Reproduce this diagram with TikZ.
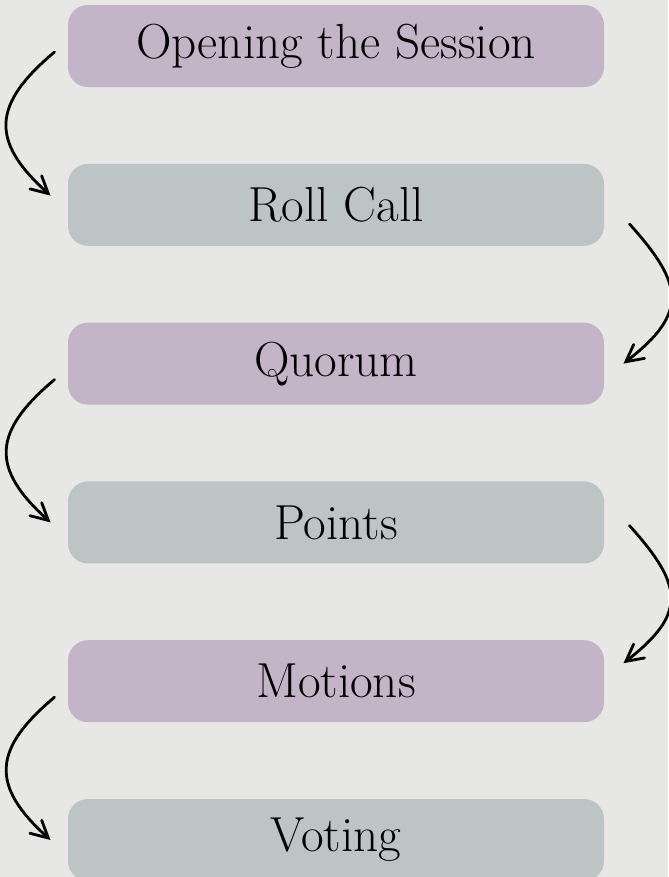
\documentclass[tikz,border=0pt]{standalone}
\usepackage{xcolor}
\usepackage{tikz}
\usetikzlibrary{arrows.meta}
\definecolor{MyMauve}{RGB}{195,180,199}
\definecolor{MySage}{RGB}{188,196,197}
\definecolor{MyWall}{RGB}{231,231,229}

\begin{document}
\begin{tikzpicture}[
    stage/.style={rounded corners=0.5cm, minimum width=13.4cm, minimum height=2.05cm, inner sep=0pt, font=\fontsize{35}{40}\selectfont},
    flow/.style={-{Straight Barb[length=4.2mm,width=4.4mm,line cap=round]}, line width=2pt, line cap=round, black}
  ]
    \fill[MyWall] (0,0) rectangle (16.7,-21.925);
    \useasboundingbox (0,0) rectangle (16.7,-21.925);

    \node[stage, fill=MyMauve] (opening) at (8.4,-1.15) {Opening the Session};
    \node[stage, fill=MySage]  (rollcall) at (8.4,-5.12) {Roll Call};
    \node[stage, fill=MyMauve] (quorum) at (8.4,-9.09) {Quorum};
    \node[stage, fill=MySage]  (points) at (8.4,-13.06) {Points};
    \node[stage, fill=MyMauve] (motions) at (8.4,-17.03) {Motions};
    \node[stage, fill=MySage]  (voting) at (8.4,-21.0) {Voting};

    \draw[flow] ([xshift=-3.3mm,yshift=-1.5mm]opening.west) to[out=220,in=138,looseness=1.45] ([xshift=-4.3mm,yshift=2.3mm]rollcall.west);
    \draw[flow] ([xshift=6.3mm,yshift=-4.8mm]rollcall.east) to[out=-48,in=38,looseness=1.5] ([xshift=4.8mm]quorum.east);
    \draw[flow] ([xshift=-3.3mm,yshift=-4mm]quorum.west) to[out=220,in=138,looseness=1.45] ([xshift=-4.3mm]points.west);
    \draw[flow] ([xshift=6.3mm,yshift=-0.8mm]points.east) to[out=-48,in=38,looseness=1.5] ([xshift=4.8mm,yshift=4.5mm]motions.east);
    \draw[flow] ([xshift=-3.3mm,yshift=-4mm]motions.west) to[out=220,in=138,looseness=1.45] ([xshift=-4.3mm]voting.west);
\end{tikzpicture}
\end{document}
